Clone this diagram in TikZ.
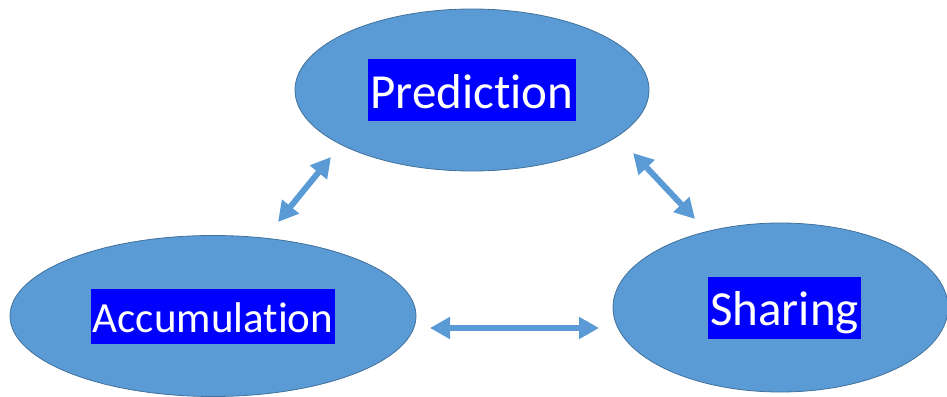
\documentclass[tikz,border=0pt]{standalone}
\usepackage{fontspec}
\setmainfont[Ligatures=NoCommon]{Carlito}
\usepackage{tikz}
\usetikzlibrary{shapes.geometric,arrows.meta}
\definecolor{cellblue}{HTML}{5B9BD5}
\definecolor{celledge}{HTML}{41719C}

\begin{document}
\begin{tikzpicture}[x=1pt,y=-1pt,
  cell/.style={ellipse, draw=celledge, fill=cellblue, line width=0.8pt, inner sep=0pt},
  tag/.style={fill=blue, text=white, inner xsep=2pt, inner ysep=0pt},
  link/.style={draw=cellblue, line width=6pt, {Triangle[length=20pt,width=21pt]}-{Triangle[length=20pt,width=21pt]}}]
\useasboundingbox (0,0) rectangle (947,396);
\node (pred) at (472,90)    [cell, minimum width=354pt, minimum height=162pt] {};
\node (accu) at (213,316)   [cell, minimum width=406pt, minimum height=161pt] {};
\node (shar) at (780.5,307.5) [cell, minimum width=335pt, minimum height=169pt] {};
\node (predtag) at (pred.center) [tag, font=\fontsize{49}{59}\selectfont, text height=49pt, text depth=13pt] {Prediction};
\node (accutag) at (accu.center) [tag, font=\fontsize{43}{52}\selectfont, text height=44pt, text depth=11pt] {Accumulation};
\node (shartag) at ([xshift=4pt]shar.center) [tag, font=\fontsize{49}{59}\selectfont, text height=49pt, text depth=13pt] {Sharing};
\coordinate (pa) at (331,157);
\coordinate (ap) at (278,222);
\coordinate (ps) at (633,153);
\coordinate (sp) at (695,219);
\coordinate (as) at (430,328);
\coordinate (sa) at (599,328);
\draw[link] (ap) -- (pa);
\draw[link] (ps) -- (sp);
\draw[link] (as) -- (sa);
\end{tikzpicture}
\end{document}
